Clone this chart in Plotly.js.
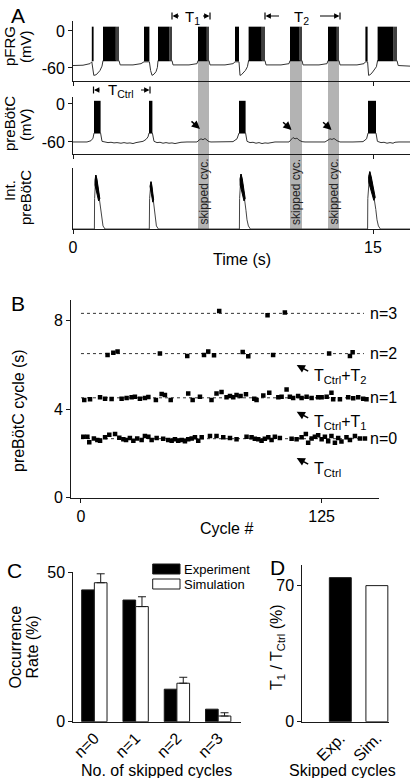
<!DOCTYPE html>
<html><head><meta charset="utf-8">
<script src="https://cdn.plot.ly/plotly-3.0.1.min.js"></script>
<style>html,body{margin:0;padding:0;background:#fff}#chart{width:412px;height:778px}</style>
</head><body><div id="chart"></div>
<script>
// ---------- Panel A data (time in s, membrane potential in mV) ----------
const pfrgT = [0,0.5,0.85,0.94,1.04,1.15,1.25,1.35,1.45,1.5,2.3,2.36,3.0,3.4,3.55,3.82,3.88,3.95,4.05,4.15,4.22,4.25,4.95,5.0,5.8,6.2,6.25,6.8,6.85,7.6,8.0,8.1,8.3,8.35,8.42,8.52,8.62,8.72,8.78,9.6,9.65,10.4,10.8,10.85,11.45,11.5,12.3,12.7,12.75,13.3,13.35,14.2,14.55,14.62,14.73,14.78,14.85,14.95,15.05,15.17,15.23,16.2,16.26,16.85];
const pfrgV = [-56,-55.5,-53,-50,-72,-71,-68,-64,-57,-48,-48,-55,-55,-53,-50,-50,-64,-72,-70,-66,-59,-48,-48,-55,-55,-53,-48,-48,-55,-55,-53,-50,-50,-72,-71,-68,-64,-58,-48,-48,-55,-55,-53,-48,-48,-55,-55,-53,-48,-48,-55,-55,-53,-50,-50,-72,-71,-68,-64,-58,-48,-48,-56,-57];
const pfrgBurstOn  = [0.94,1.5,3.55,4.25,6.25,8.1,8.78,10.85,12.75,14.62,15.23];
const pfrgBurstOff = [1.03,2.3,3.82,4.95,6.8,8.3,9.6,11.45,13.3,14.73,16.2];
const pfrgBurstLow = -49, pfrgBurstHigh = 7;

const prebT = [0,0.7,0.9,1.0,1.05,1.38,1.45,1.6,1.75,1.9,2.05,2.2,2.4,2.55,2.7,2.85,3.0,3.15,3.3,3.5,3.65,3.75,3.8,3.97,4.05,4.2,4.35,4.5,4.65,4.8,4.95,5.1,5.25,5.4,5.7,6.2,6.3,6.4,6.5,6.6,6.7,6.8,6.9,7.5,8.0,8.2,8.3,8.63,8.7,8.85,9.0,9.15,9.3,9.45,9.6,9.75,9.9,10.1,10.8,10.9,11.0,11.1,11.2,11.3,11.45,11.6,12.6,12.75,12.85,12.95,13.05,13.2,13.35,14.0,14.5,14.68,14.75,15.15,15.22,15.4,15.55,15.7,15.85,16.0,16.1,16.3,16.85];
const prebV = [-60,-60,-58,-54,-46,-46,-59,-60,-61,-60.5,-61.5,-61,-62,-61,-62,-61.5,-62.5,-61,-60,-59,-56,-52,-46,-46,-59,-61,-60.5,-62,-61,-62,-61.5,-62.5,-61.5,-60.5,-60,-60,-57,-55,-56.5,-54.5,-57,-59.5,-60,-60,-59.5,-55,-46,-46,-59,-61,-60.5,-62,-61,-62.5,-61.5,-62,-61,-60,-60,-56,-53,-55,-54,-57,-59.5,-60,-60,-57,-55,-56,-54.5,-58,-60,-60,-59.5,-55,-46,-46,-59,-61,-60.5,-62,-61,-62,-60.5,-60,-60];
const prebBurstOn  = [1.05,3.8,8.3,14.75];
const prebBurstOff = [1.38,3.97,8.63,15.15];
const prebBurstLow = -46, prebBurstHigh = 5;

const intT = [0,1.07,1.08,1.12,1.14,1.2,1.27,1.33,1.38,1.43,1.5,1.6,3.815,3.83,3.88,3.9,3.95,4.0,4.05,4.1,4.17,4.27,8.32,8.33,8.37,8.4,8.47,8.55,8.6,8.65,8.7,8.77,8.87,14.73,14.74,14.8,14.84,14.92,15.0,15.08,15.14,15.2,15.27,15.37,16.85];
const intV = [0,0,0.5,0.86,0.885,0.78,0.6,0.48,0.3,0.15,0.05,0,0,0.5,0.76,0.775,0.65,0.5,0.3,0.15,0.05,0,0,0.5,0.88,0.9,0.76,0.58,0.48,0.3,0.15,0.05,0,0,0.5,0.92,0.94,0.8,0.64,0.5,0.32,0.15,0.05,0,0];
const intBandT = [1.1,1.14,1.19,1.26,1.34,1.28,1.21,1.15,1.1,null,3.85,3.9,3.94,3.98,4.03,3.99,3.94,3.89,3.85,null,8.35,8.4,8.46,8.53,8.61,8.55,8.48,8.42,8.36,null,14.78,14.84,14.91,15.0,15.11,15.04,14.95,14.87,14.79];
const intBandV = [0.8,0.885,0.83,0.68,0.5,0.46,0.56,0.68,0.72,null,0.7,0.775,0.72,0.6,0.48,0.44,0.53,0.63,0.64,null,0.82,0.9,0.83,0.68,0.5,0.46,0.56,0.68,0.72,null,0.86,0.94,0.86,0.7,0.52,0.47,0.58,0.7,0.76];

const skippedStart = [6.25,10.85,12.75];
const skippedEnd   = [6.8,11.45,13.3];
const timeTicks = [0,15];

// ---------- Panel B data (cycle #, period in s) ----------
const n0Cycle = [1.2,3.3,4.3,6.7,8.5,9.9,12.5,14.7,17.7,19.9,22.0,23.4,25.4,27.2,29.2,31.5,33.2,35.0,36.7,39.3,42.7,45.3,47.1,48.8,50.5,52.3,54.0,55.7,57.5,59.2,60.9,62.7,67.0,70.4,73.9,77.4,80.8,86.0,88.6,90.3,92.1,93.8,95.5,97.3,99.0,100.7,103.3,109.4,112.0,114.6,116.8,118.0,119.8,121.5,123.2,125.0,126.7,128.4,130.1,131.9,133.6,135.3,137.9,139.7,142.3,144.9,147.5];
const n0Period = [2.76,2.76,2.51,2.68,2.61,2.58,2.73,2.85,2.88,2.71,2.64,2.61,2.70,2.58,2.68,2.61,2.79,2.76,2.61,2.70,2.67,2.61,2.58,2.64,2.58,2.61,2.55,2.64,2.68,2.73,2.58,2.73,2.79,2.79,2.73,2.70,2.64,2.76,2.73,2.67,2.64,2.58,2.67,2.73,2.61,2.76,2.70,2.67,2.64,2.73,2.88,2.49,2.68,2.76,2.83,2.64,2.76,2.55,2.79,2.49,2.70,2.54,2.73,2.61,2.79,2.68,2.68];
const n1Cycle = [1.7,4.7,9.9,12.5,15.9,21.1,23.7,26.3,28.0,30.6,33.2,35.0,38.9,41.9,43.6,46.6,55.7,58.0,61.8,67.8,70.4,73.0,75.6,77.4,79.1,80.8,82.9,85.7,90.0,91.2,94.7,97.8,102.5,104.2,106.8,108.5,110.2,112.8,114.6,117.2,119.8,123.2,125.0,127.6,130.1,131.0,134.5,138.8,141.4,144.0,146.6,148.3];
const n1Period = [4.42,4.45,4.54,4.48,4.47,4.48,4.51,4.54,4.57,4.48,4.51,4.56,4.42,4.69,4.65,4.42,4.72,4.42,4.57,4.42,4.72,4.78,4.54,4.60,4.54,4.65,4.60,4.68,4.48,4.42,4.62,4.75,4.54,4.57,4.90,4.57,4.51,4.60,4.51,4.57,4.51,4.54,4.54,4.57,4.75,4.45,4.45,4.54,4.50,4.54,4.48,4.45];
const n2Cycle = [13.8,16.8,19.0,41.0,55.2,63.9,66.1,69.1,84.0,86.9,99.8,128.9,139.7,141.1];
const n2Period = [6.46,6.56,6.61,6.52,6.41,6.46,6.61,6.45,6.59,6.40,6.46,6.53,6.41,6.58];
const n3Cycle = [71.8,96.9,105.9];
const n3Period = [8.45,8.25,8.38];
const levelValues = [2.67,4.52,6.52,8.34];
const levelLabels = ['n=0','n=1','n=2','n=3'];
const levelFrom = 0, levelTo = 147;
const cycleTicks = [0,125], periodTicks = [0,4,8];

// ---------- Panel C data ----------
const skipCats = ['n=0','n=1','n=2','n=3'];
const expRate = [44.2,40.8,10.9,4.2];
const simRate = [46.6,38.6,12.9,1.9];
const simErr  = [3.0,3.3,2.0,1.1];
const rateTicks = [0,50];

// ---------- Panel D data ----------
const dCats = ['Exp.','Sim.'];
const dVals = [74.1,70.0];
const dTicks = [0,70];

// ---------- helpers ----------
const W=412, H=778;
const fx = p => p/W, fy = p => 1 - p/H;
const INK = '#1a1a1a';

function blockTraces(on, off, lo, hi, xa, ya, color){
  const t=[];
  for(let i=0;i<on.length;i++){
    t.push({type:'scatter',mode:'lines',x:[on[i],on[i],off[i],off[i],on[i]],y:[lo,hi,hi,lo,lo],
      xaxis:xa,yaxis:ya,fill:'toself',fillcolor:color,line:{width:0,color:color},hoverinfo:'skip',showlegend:false});
  }
  return t;
}
function splitNull(xs, ys){
  const out=[]; let cx=[],cy=[];
  for(let i=0;i<xs.length;i++){
    if(xs[i]===null){ if(cx.length){out.push([cx,cy]);} cx=[];cy=[]; }
    else { cx.push(xs[i]); cy.push(ys[i]); }
  }
  if(cx.length) out.push([cx,cy]);
  return out;
}

const traces = [];
// pFRG trace
traces.push({type:'scatter',mode:'lines',x:pfrgT,y:pfrgV,xaxis:'x',yaxis:'y',line:{color:'#333',width:1},hoverinfo:'skip',showlegend:false});
// pFRG bursts: dense part black, sparser tail dark grey
const tailOn=[], tailOff=[], headOff=[];
for(let i=0;i<pfrgBurstOn.length;i++){
  const d = pfrgBurstOff[i]-pfrgBurstOn[i];
  if(d>0.4){ headOff.push(pfrgBurstOff[i]-0.2*d); tailOn.push(pfrgBurstOff[i]-0.2*d); tailOff.push(pfrgBurstOff[i]); }
  else headOff.push(pfrgBurstOff[i]);
}
traces.push(...blockTraces(tailOn, tailOff, pfrgBurstLow, pfrgBurstHigh, 'x','y','#404040'));
traces.push(...blockTraces(pfrgBurstOn, headOff, pfrgBurstLow, pfrgBurstHigh, 'x','y','#000'));
// preBotC trace
traces.push({type:'scatter',mode:'lines',x:prebT,y:prebV,xaxis:'x2',yaxis:'y2',line:{color:'#333',width:1},hoverinfo:'skip',showlegend:false});
traces.push(...blockTraces(prebBurstOn, prebBurstOff, prebBurstLow, prebBurstHigh, 'x2','y2','#000'));
// integrated preBotC
traces.push({type:'scatter',mode:'lines',x:intT,y:intV,xaxis:'x3',yaxis:'y3',line:{color:'#444',width:1},hoverinfo:'skip',showlegend:false});
splitNull(intBandT,intBandV).forEach(([bx,by])=>{
  traces.push({type:'scatter',mode:'lines',x:bx.concat([bx[0]]),y:by.concat([by[0]]),xaxis:'x3',yaxis:'y3',fill:'toself',fillcolor:'#000',line:{color:'#000',width:1},hoverinfo:'skip',showlegend:false});
});

// Panel B
levelValues.forEach(v=>{
  traces.push({type:'scatter',mode:'lines',x:[levelFrom,levelTo],y:[v,v],xaxis:'x4',yaxis:'y4',line:{color:'#333',width:1,dash:'3px,3px'},hoverinfo:'skip',showlegend:false});
});
[[n0Cycle,n0Period],[n1Cycle,n1Period],[n2Cycle,n2Period],[n3Cycle,n3Period]].forEach(([cx,cy])=>{
  traces.push({type:'scatter',mode:'markers',x:cx,y:cy,xaxis:'x4',yaxis:'y4',marker:{symbol:'square',size:4.5,color:'#000'},hoverinfo:'skip',showlegend:false});
});

// Panel C
const catIdx = skipCats.map((c,i)=>i);
traces.push({type:'bar',x:catIdx,y:expRate,xaxis:'x5',yaxis:'y5',width:0.307,offset:-0.307,marker:{color:'#000',line:{color:INK,width:1}},showlegend:false,hoverinfo:'skip'});
traces.push({type:'bar',x:catIdx,y:simRate,xaxis:'x5',yaxis:'y5',width:0.307,offset:0,marker:{color:'#fff',line:{color:INK,width:1}},
  error_y:{type:'data',symmetric:false,array:simErr,arrayminus:simErr.map(()=>0),color:INK,thickness:1,width:4},showlegend:false,hoverinfo:'skip'});

// Panel D
traces.push({type:'bar',x:dCats.map((c,i)=>i),y:dVals,xaxis:'x6',yaxis:'y6',width:0.6,marker:{color:['#000','#fff'],line:{color:INK,width:1}},showlegend:false,hoverinfo:'skip'});

// ---------- axes ----------
const ax = {showline:true,linecolor:INK,linewidth:1,showgrid:false,zeroline:false,ticks:'outside',ticklen:4,tickcolor:INK,tickwidth:1,
  tickfont:{size:16,color:'#000'},fixedrange:true};
const layout = {
  width:W,height:H,margin:{l:0,r:0,t:0,b:0},paper_bgcolor:'#fff',plot_bgcolor:'rgba(0,0,0,0)',
  font:{family:'"Liberation Sans", Arial, Helvetica, sans-serif',color:'#000',size:16},
  showlegend:false,barmode:'overlay',
  xaxis: {...ax,domain:[fx(73),fx(410)],range:[0,16.85],anchor:'y',tickvals:timeTicks,showticklabels:false},
  yaxis: {...ax,domain:[fy(81),fy(21)],range:[-81.1,16.2],anchor:'x',tickvals:[0,-60],ticktext:['0','-60']},
  xaxis2:{...ax,domain:[fx(73),fx(410)],range:[0,16.85],anchor:'y2',tickvals:timeTicks,showticklabels:false},
  yaxis2:{...ax,domain:[fy(154),fy(97)],range:[-79,11],anchor:'x2',tickvals:[0,-60],ticktext:['0','-60']},
  xaxis3:{...ax,domain:[fx(73),fx(410)],range:[0,16.85],anchor:'y3',tickvals:timeTicks,ticktext:timeTicks.map(String)},
  yaxis3:{...ax,domain:[fy(229),fy(168)],range:[0,1],anchor:'x3',ticks:'',showticklabels:false},
  xaxis4:{...ax,domain:[fx(71),fx(379)],range:[-5.19,154.8],anchor:'y4',tickvals:cycleTicks,ticktext:cycleTicks.map(String)},
  yaxis4:{...ax,domain:[fy(497.7),fy(300)],range:[0,8.945],anchor:'x4',tickvals:periodTicks,ticktext:periodTicks.map(String)},
  xaxis5:{...ax,domain:[fx(73.3),fx(240.7)],range:[-0.51,3.545],anchor:'y5',tickvals:catIdx,ticktext:skipCats,tickangle:-45,ticks:''},
  yaxis5:{...ax,domain:[fy(721.7),fy(571.7)],range:[0,50.3],anchor:'x5',tickvals:rateTicks,ticktext:rateTicks.map(String)},
  xaxis6:{...ax,domain:[fx(302.3),fx(389.3)],range:[-1.04,1.34],anchor:'y6',tickvals:[0,1],ticktext:dCats,tickangle:-45,ticks:''},
  yaxis6:{...ax,domain:[fy(721.7),fy(565)],range:[0,80.6],anchor:'x6',tickvals:dTicks,ticktext:dTicks.map(String)},
  shapes:[],annotations:[]
};

function txt(text, px, py, o){ return Object.assign({text:text,x:fx(px),y:fy(py),xref:'paper',yref:'paper',showarrow:false,xanchor:'center',yanchor:'middle',borderpad:0,font:{size:16,color:'#000'}},o||{}); }
const A = layout.annotations, S = layout.shapes;

// skipped-cycle grey bars
for(let i=0;i<skippedStart.length;i++){
  S.push({type:'rect',xref:'x3',yref:'paper',x0:skippedStart[i],x1:skippedEnd[i],y0:fy(229),y1:fy(60),fillcolor:'#b3b3b3',line:{width:0},layer:'below'});
  A.push({text:'skipped cyc.',xref:'x3',yref:'paper',x:(skippedStart[i]+skippedEnd[i])/2,y:fy(192),textangle:-90,showarrow:false,font:{size:12,color:'#222'},xanchor:'center',yanchor:'middle'});
}

// panel letters
A.push(txt('A',18,15,{font:{size:21,color:'#000'}}));
A.push(txt('B',18,303,{font:{size:21,color:'#000'}}));
A.push(txt('C',15,570,{font:{size:21,color:'#000'}}));
A.push(txt('D',277,567,{font:{size:21,color:'#000'}}));

// panel A axis titles
A.push(txt('pFRG',9,46,{textangle:-90,font:{size:15,color:'#000'}}));
A.push(txt('(mV)',26,47,{textangle:-90,font:{size:15,color:'#000'}}));
A.push(txt('preBötC',9,124,{textangle:-90,font:{size:15,color:'#000'}}));
A.push(txt('(mV)',26,125,{textangle:-90,font:{size:15,color:'#000'}}));
A.push(txt('Int.',9,191,{textangle:-90,font:{size:15,color:'#000'}}));
A.push(txt('preBötC',26,198,{textangle:-90,font:{size:15,color:'#000'}}));
A.push(txt('Time (s)',241.7,259));

// bracket markers |<-  ->|
function bracket(xBar, py, dir, len){
  S.push({type:'line',xref:'paper',yref:'paper',x0:fx(xBar),x1:fx(xBar),y0:fy(py-3.5),y1:fy(py+3.5),line:{color:'#000',width:1.2}});
  A.push({text:'',x:fx(xBar+dir*0.5),y:fy(py),xref:'paper',yref:'paper',showarrow:true,ax:dir*len,ay:0,arrowhead:2,arrowsize:0.9,arrowwidth:1.2,arrowcolor:'#000',standoff:0});
}
bracket(172,16,1,8);  bracket(210,16,-1,8);
A.push(txt('T<sub>1</sub>',192,17,{font:{size:15,color:'#000'}}));
bracket(265,16,1,15); bracket(340,16,-1,21);
A.push(txt('T<sub>2</sub>',301,17,{font:{size:15,color:'#000'}}));
bracket(93.5,90,1,7); bracket(150,90,-1,10);
A.push(txt('T<sub>Ctrl</sub>',121,91,{font:{size:15,color:'#000'}}));

// arrows to skipped bursts in preBotC trace
[[6.35,-39.5],[10.93,-41],[12.93,-41]].forEach(([xt,yt])=>{
  A.push({text:'',x:xt,y:yt,xref:'x2',yref:'y2',showarrow:true,ax:-10,ay:-9,arrowhead:2,arrowsize:1.1,arrowwidth:1.5,arrowcolor:'#000',standoff:0});
});

// Panel B texts
A.push(txt('preBötC cycle (s)',19,411,{textangle:-90}));
A.push(txt('Cycle #',226,528));
levelValues.forEach((v,i)=>{
  A.push({text:levelLabels[i],x:fx(398.5),y:v,xref:'paper',yref:'y4',showarrow:false,xanchor:'right',yanchor:'middle',font:{size:16,color:'#000'}});
});
[[365,'T<sub>Ctrl</sub>+T<sub>2</sub>'],[411.7,'T<sub>Ctrl</sub>+T<sub>1</sub>'],[458,'T<sub>Ctrl</sub>']].forEach(([py,label])=>{
  A.push({text:'',x:fx(296.7),y:fy(py),xref:'paper',yref:'paper',showarrow:true,ax:13,ay:7,arrowhead:2,arrowsize:1.1,arrowwidth:1.5,arrowcolor:'#000',standoff:0});
  A.push(txt(label,313,py+11,{xanchor:'left',font:{size:16,color:'#000'}}));
});

// Panel C texts + legend
A.push(txt('Occurrence',14.5,647,{textangle:-90}));
A.push(txt('Rate (%)',31.5,647,{textangle:-90}));
A.push(txt('No. of skipped cycles',156.7,770));
S.push({type:'rect',xref:'paper',yref:'paper',x0:fx(152.7),x1:fx(180),y0:fy(574),y1:fy(564),fillcolor:'#000',line:{color:INK,width:1}});
S.push({type:'rect',xref:'paper',yref:'paper',x0:fx(152.7),x1:fx(180),y0:fy(589),y1:fy(579),fillcolor:'#fff',line:{color:INK,width:1}});
A.push(txt('Experiment',182.7,569,{xanchor:'left',font:{size:13,color:'#000'}}));
A.push(txt('Simulation',182.7,584,{xanchor:'left',font:{size:13,color:'#000'}}));

// Panel D texts
A.push(txt('T<sub>1</sub> / T<sub>Ctrl</sub> (%)',277,647,{textangle:-90}));
A.push(txt('Skipped cycles',342.5,770));

Plotly.newPlot('chart',traces,layout,{displayModeBar:false,staticPlot:true});
</script>
</body></html>
